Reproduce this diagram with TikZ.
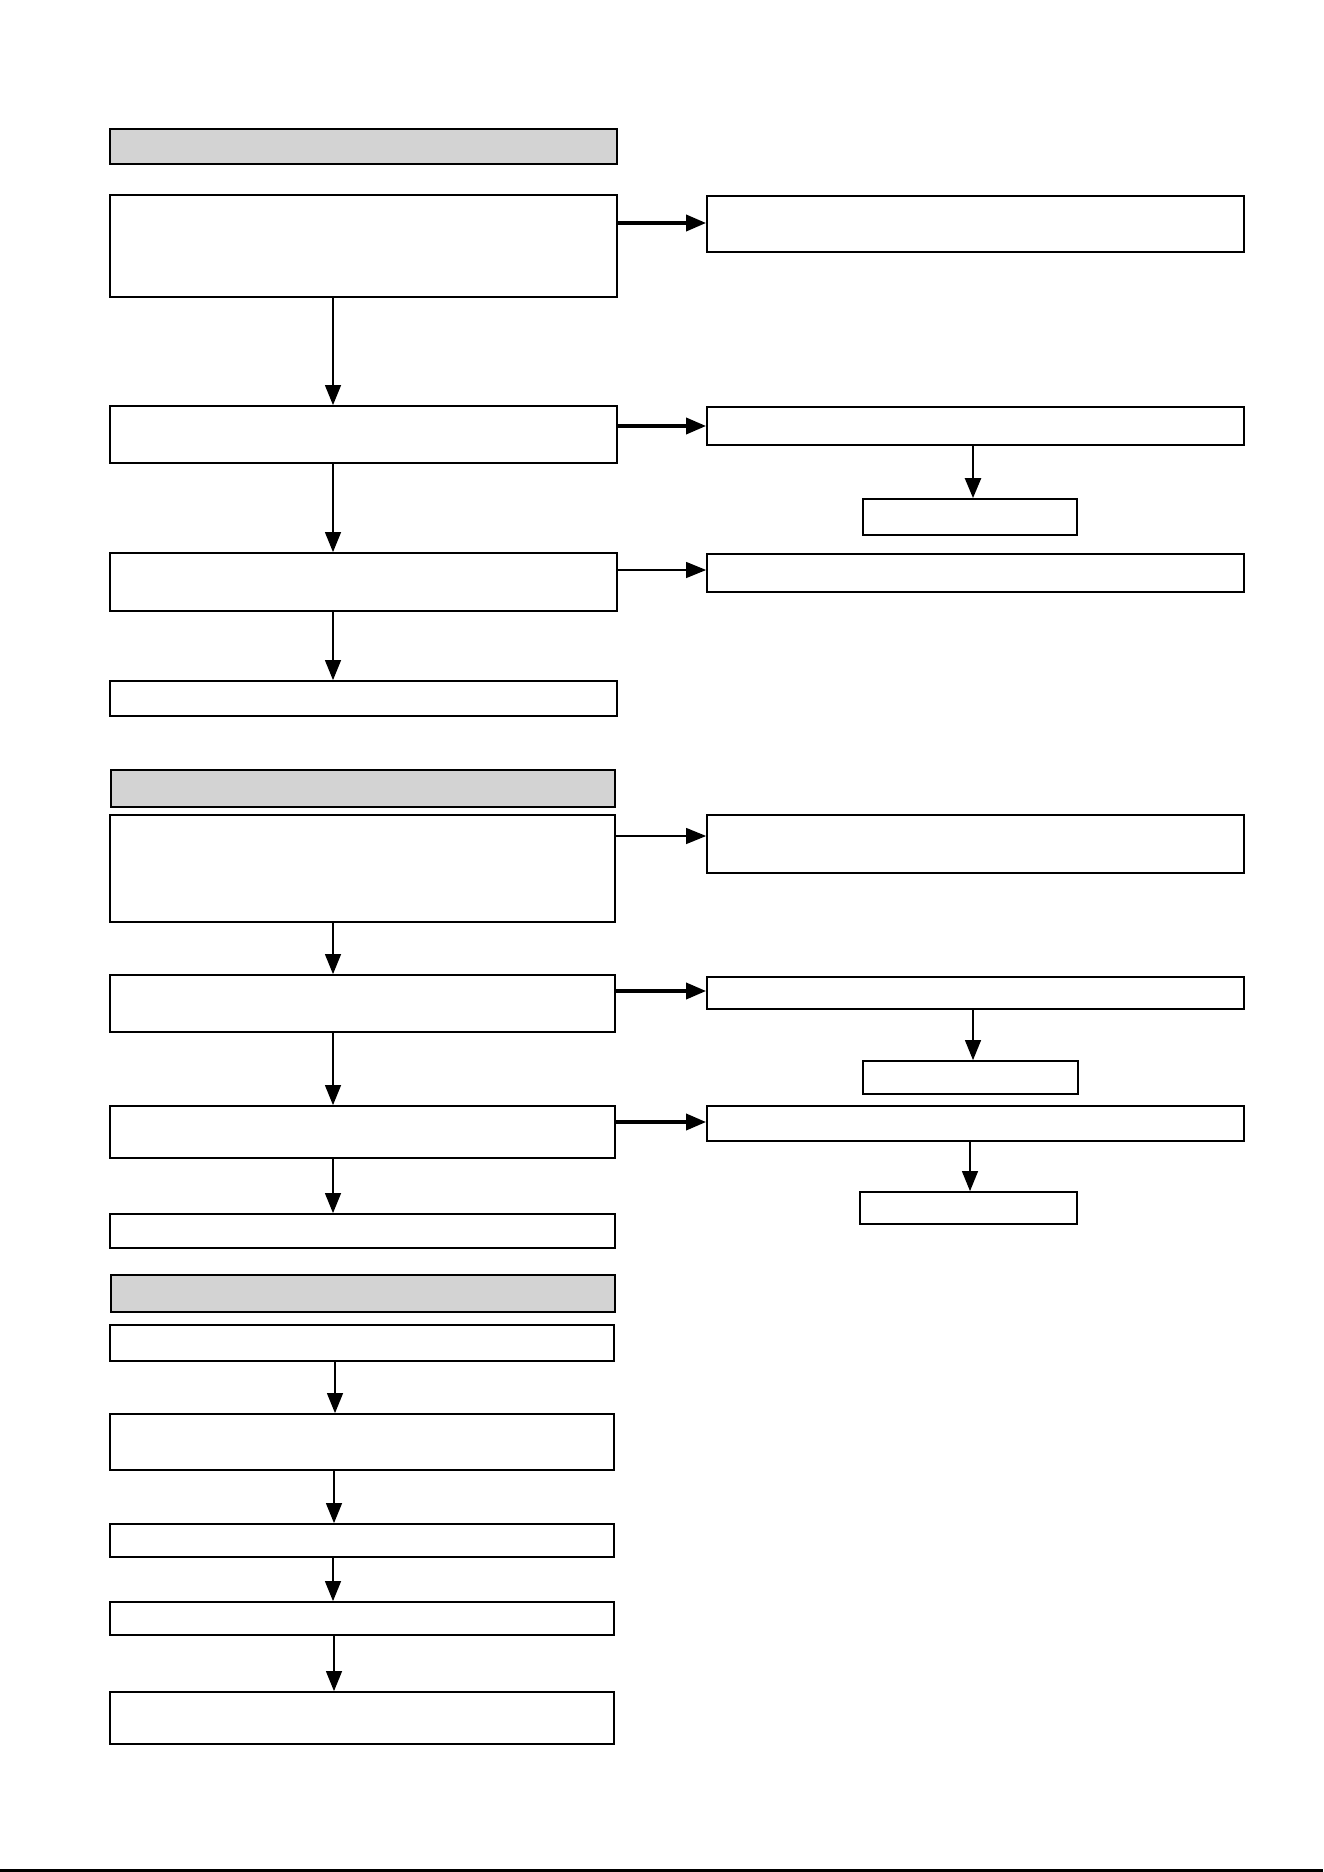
\documentclass[tikz,border=0pt]{standalone}
\usetikzlibrary{arrows.meta,fit}
\definecolor{headgray}{RGB}{211,211,211}
\tikzset{
  box/.style={draw, line width=0.9pt, inner sep=0pt, fill=white},
  headbox/.style={box, fill=headgray},
  arr/.style={line width=0.6pt, -{Triangle[length=10pt,width=8pt]}},
  thickarr/.style={line width=1.8pt, -{Triangle[length=10pt,width=8pt]}}
}
\begin{document}
\begin{tikzpicture}[x=0.5pt,y=-0.5pt]
\useasboundingbox (0,0) rectangle (1323,1872);
% section 1
\node[headbox, fit={(110,129) (617,164)}] (H1) {};
\node[box, fit={(110,195) (617,297)}] (A1) {};
\node[box, fit={(707,196) (1244,252)}] (R1) {};
\node[box, fit={(110,406) (617,463)}] (A2) {};
\node[box, fit={(707,407) (1244,445)}] (R2) {};
\node[box, fit={(863,499) (1077,535)}] (S2) {};
\node[box, fit={(110,553) (617,611)}] (A3) {};
\node[box, fit={(707,554) (1244,592)}] (R3) {};
\node[box, fit={(110,681) (617,716)}] (A4) {};
\draw[thickarr] (A1.east |- 0,223) -- (R1.west |- 0,223);
\draw[arr] (333,0 |- A1.south) -- (333,0 |- A2.north);
\draw[thickarr] (A2.east |- 0,426) -- (R2.west |- 0,426);
\draw[arr, line width=1.2pt] (973,0 |- R2.south) -- (973,0 |- S2.north);
\draw[arr] (333,0 |- A2.south) -- (333,0 |- A3.north);
\draw[arr] (A3.east |- 0,570) -- (R3.west |- 0,570);
\draw[arr] (333,0 |- A3.south) -- (333,0 |- A4.north);
% section 2
\node[headbox, fit={(111,770) (615,807)}] (H2) {};
\node[box, fit={(110,815) (615,922)}] (B1) {};
\node[box, fit={(707,815) (1244,873)}] (RB1) {};
\node[box, fit={(110,975) (615,1032)}] (B2) {};
\node[box, fit={(707,977) (1244,1009)}] (RB2) {};
\node[box, fit={(863,1061) (1078,1094)}] (SB2) {};
\node[box, fit={(110,1106) (615,1158)}] (B3) {};
\node[box, fit={(707,1106) (1244,1141)}] (RB3) {};
\node[box, fit={(860,1192) (1077,1224)}] (SB3) {};
\node[box, fit={(110,1214) (615,1248)}] (B4) {};
\draw[arr] (B1.east |- 0,836) -- (RB1.west |- 0,836);
\draw[arr] (333,0 |- B1.south) -- (333,0 |- B2.north);
\draw[thickarr] (B2.east |- 0,991) -- (RB2.west |- 0,991);
\draw[arr] (973,0 |- RB2.south) -- (973,0 |- SB2.north);
\draw[arr] (333,0 |- B2.south) -- (333,0 |- B3.north);
\draw[thickarr] (B3.east |- 0,1122) -- (RB3.west |- 0,1122);
\draw[arr] (970,0 |- RB3.south) -- (970,0 |- SB3.north);
\draw[arr] (333,0 |- B3.south) -- (333,0 |- B4.north);
% section 3
\node[headbox, fit={(111,1275) (615,1312)}] (H3) {};
\node[box, fit={(110,1325) (614,1361)}] (C1) {};
\node[box, fit={(110,1414) (614,1470)}] (C2) {};
\node[box, fit={(110,1524) (614,1557)}] (C3) {};
\node[box, fit={(110,1602) (614,1635)}] (C4) {};
\node[box, fit={(110,1692) (614,1744)}] (C5) {};
\draw[arr] (335,0 |- C1.south) -- (335,0 |- C2.north);
\draw[arr] (334,0 |- C2.south) -- (334,0 |- C3.north);
\draw[arr] (333,0 |- C3.south) -- (333,0 |- C4.north);
\draw[arr] (334,0 |- C4.south) -- (334,0 |- C5.north);
% bottom rule
\coordinate (BL) at (0,1870);
\coordinate (BR) at (1323,1870);
\draw[line width=1.5pt] (BL) -- (BR);
\end{tikzpicture}
\end{document}
